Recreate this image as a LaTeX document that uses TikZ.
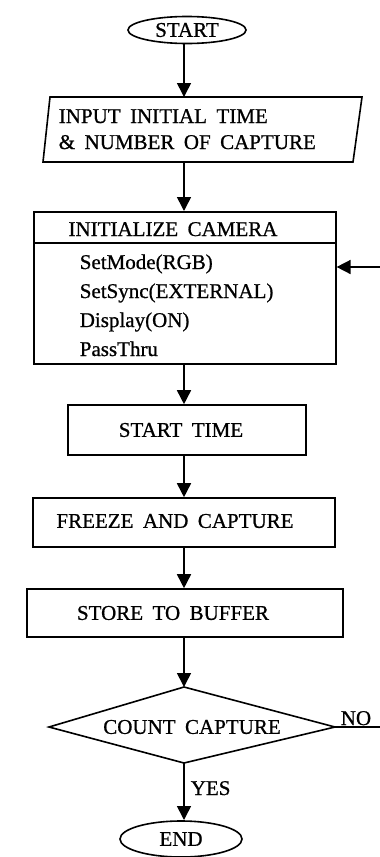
\documentclass[tikz,border=0pt]{standalone}
\usepackage{fontspec}
\setmainfont{Liberation Serif}[WordSpace=1.8,FakeBold=0.8]
\usetikzlibrary{shapes.geometric,arrows.meta}
\begin{document}
\begin{tikzpicture}[x=1pt,y=-1pt,line width=1.6pt,
  arr/.style={-{Triangle[length=14pt,width=14pt]}},
  txt/.style={font=\fontsize{21}{21}\selectfont,inner sep=0pt},
  box/.style={draw,rectangle},
  term/.style={draw,ellipse,inner sep=0pt,font=\fontsize{21}{21}\selectfont}]
\useasboundingbox (0,0) rectangle (380,857);
% START
\node[term,minimum width=118pt,minimum height=27pt] (start) at (187,30) {START};
% input parallelogram
\coordinate (pA) at (50,97);
\coordinate (pB) at (362,97);
\coordinate (pC) at (353,162);
\coordinate (pD) at (43,162);
\draw (pA) -- (pB) -- (pC) -- (pD) -- cycle;
\coordinate (inTop) at (184,97);
\coordinate (inBot) at (184,162);
\node[txt,anchor=base west] (in1) at (58,123) {INPUT INITIAL TIME};
\node[txt,anchor=base west] (in2) at (58,149) {\& NUMBER OF CAPTURE};
% camera box
\node[box,minimum width=302pt,minimum height=152pt,anchor=north west,inner sep=0pt] (cam) at (33,211) {};
\coordinate (divL) at (33,243);
\coordinate (divR) at (335,243);
\draw (divL) -- (divR);
\node[txt,anchor=base] (camh) at (173,236) {INITIALIZE CAMERA};
\node[txt,anchor=base west] (c1) at (79,269) {SetMode(RGB)};
\node[txt,anchor=base west] (c2) at (79,298) {SetSync(EXTERNAL)};
\node[txt,anchor=base west] (c3) at (79,327) {Display(ON)};
\node[txt,anchor=base west] (c4) at (79,356) {PassThru};
\coordinate (fbIn) at (380,267);
% start time
\node[box,minimum width=238pt,minimum height=50pt,inner sep=0pt] (st) at (187,430) {};
\node[txt] (stt) at (181,430) {START TIME};
% freeze
\node[box,minimum width=302pt,minimum height=49pt,inner sep=0pt] (fr) at (184,522.5) {};
\node[txt] (frt) at (175,521) {FREEZE AND CAPTURE};
% store
\node[box,minimum width=316pt,minimum height=48pt,inner sep=0pt] (sb) at (185,613) {};
\node[txt] (sbt) at (173,613) {STORE TO BUFFER};
% diamond
\coordinate (dT) at (184,687);
\coordinate (dR) at (335,727);
\coordinate (dB) at (184,763);
\coordinate (dL) at (49,727);
\draw (dT) -- (dR) -- (dB) -- (dL) -- cycle;
\node[txt] (dt) at (192,727) {COUNT CAPTURE};
\coordinate (noEnd) at (380,727);
\node[txt,anchor=base west] (no) at (340,725) {NO};
\node[txt,anchor=base west] (yes) at (190,795) {YES};
% END
\node[term,minimum width=122pt,minimum height=36pt] (end) at (181,839) {END};
\coordinate (endTop) at (184,820);
% connectors
\draw[arr] (start.south -| inTop) -- (inTop);
\draw[arr] (inBot) -- (inBot |- cam.north);
\draw[arr] (fbIn) -- (fbIn -| cam.east);
\draw[arr] (inBot |- cam.south) -- (inBot |- st.north);
\draw[arr] (inBot |- st.south) -- (inBot |- fr.north);
\draw[arr] (inBot |- fr.south) -- (inBot |- sb.north);
\draw[arr] (inBot |- sb.south) -- (dT);
\draw (dR) -- (noEnd);
\draw[arr] (dB) -- (endTop);
\end{tikzpicture}
\end{document}
